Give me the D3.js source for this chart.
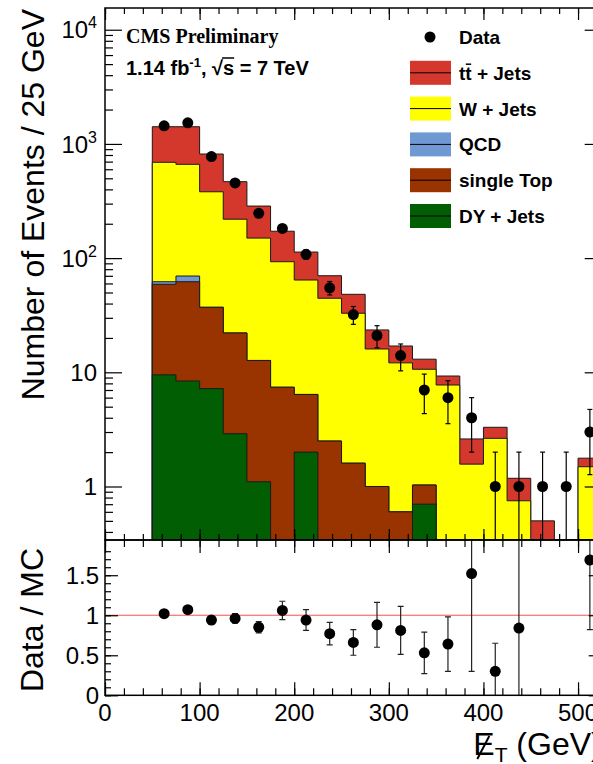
<!DOCTYPE html>
<html>
<head>
<meta charset="utf-8">
<script src="https://cdn.jsdelivr.net/npm/d3@7"></script>
<style>
  body { margin: 0; background: #fff; }
  text { font-family: "Liberation Sans", Arial, Helvetica, sans-serif; fill: #000; }
</style>
</head>
<body>
<div id="chart_container"></div>
<script>
// -- DATA -- // MET distribution, 25 GeV bins

// bin edges (GeV)
const binEdges = [50, 75, 100, 125, 150, 175, 200, 225, 250, 275, 300, 325, 350, 375, 400, 425, 450, 475, 500, 525];

// MC expectation per bin, one array per sample (not stacked)
const dyJets = [9.5, 8.4, 7.2, 2.9, 1.1, 0, 2.0, 0, 0, 0, 0, 0.7, 0, 0, 0, 0, 0, 0, 0];
const singleTop = [49.5, 53.7, 29.9, 19.2, 11.6, 7.4, 4.4, 2.5, 1.6, 1.0, 0.6, 0.33, 0, 0, 0, 0, 0, 0, 0];
const qcd = [3.1, 7.6, 0, 0, 0, 0, 0, 0, 0, 0, 0, 0, 0, 0, 0, 0, 0, 0, 0];
const wJets = [628, 593, 344, 197, 137, 85.6, 57.9, 42, 31.3, 15.0, 11.5, 9.6, 7.74, 1.57, 2.64, 0.75, 0.18, 0, 1.49];
const ttJets = [725, 752, 435, 248, 136, 79, 48.7, 25.6, 15.3, 7.5, 4.9, 2.4, 1.54, 1.04, 0.66, 0.43, 0.32, 0, 0.28];

// observed events and their errors
const dataCounts = [1440, 1530, 775, 455, 247, 182, 108, 55, 32, 21, 14, 7, 6, 4, 1, 1, 1, 1, 3];
const dataErr = [38, 39, 28, 21.3, 15.7, 13.5, 10.4, 7.4, 5.7, 4.6, 3.7, 2.65, 2.45, 2.0, 1, 1, 1, 1, 1.73];

// data / MC ratio (null = not drawn)
const ratioVals = [1.02, 1.07, 0.94, 0.96, 0.85, 1.06, 0.94, 0.77, 0.66, 0.88, 0.81, 0.53, 0.64, 1.52, 0.30, 0.84, null, null, 1.69];
const ratioErr = [0.04, 0.04, 0.05, 0.06, 0.07, 0.115, 0.13, 0.14, 0.16, 0.28, 0.30, 0.26, 0.34, 1.22, 0.35, 1.3, null, null, 0.87];

// tick labels
const xTickValues = [0, 100, 200, 300, 400, 500];
const xTickLabels = ["0", "100", "200", "300", "400", "500"];
const logTickValues = [1, 10, 100, 1000, 10000];
const logTickBase = ["1", "10", "10", "10", "10"];
const logTickExp = ["", "", "2", "3", "4"];
const ratioTickValues = [0, 0.5, 1, 1.5];
const ratioTickLabels = ["0", "0.5", "1", "1.5"];

// samples in stacking order (bottom first)
const samples = [
  { name: "DY + Jets", values: dyJets, color: "#015e03" },
  { name: "single Top", values: singleTop, color: "#993300" },
  { name: "QCD", values: qcd, color: "#7099d4" },
  { name: "W + Jets", values: wJets, color: "#ffff00" },
  { name: "tt + Jets", values: ttJets, color: "#d4372c" },
];

// -- LAYOUT -- //
const width = 593;
const height = 764;
const plotLeft = 105;
const plotRight = 601.7;
const topPanelTop = 8;
const panelSplit = 540;
const ratioBottom = 695.3;

const svg = d3
  .select("#chart_container")
  .append("svg")
  .attr("width", width)
  .attr("height", height);

// scales
const x = d3.scaleLinear().domain([0, 525]).range([plotLeft, plotRight]);
const y = d3.scaleLog().domain([0.34, 15500]).range([panelSplit, topPanelTop]).clamp(true);
const yRatio = d3.scaleLinear().domain([0, 1.94]).range([ratioBottom, panelSplit]);
const yMin = y.domain()[0];

// clip paths for both pads
const defs = svg.append("defs");
defs.append("clipPath").attr("id", "clipTop")
  .append("rect")
  .attr("x", plotLeft).attr("y", topPanelTop)
  .attr("width", plotRight - plotLeft).attr("height", panelSplit - topPanelTop);
defs.append("clipPath").attr("id", "clipRatio")
  .append("rect")
  .attr("x", plotLeft).attr("y", panelSplit)
  .attr("width", plotRight - plotLeft).attr("height", ratioBottom - panelSplit);

// -- STACKED HISTOGRAMS -- //
const rows = binEdges.slice(0, -1).map((lo, i) => {
  const row = { lo: lo, hi: binEdges[i + 1] };
  samples.forEach((s) => (row[s.name] = s.values[i]));
  return row;
});
const stacked = d3.stack().keys(samples.map((s) => s.name))(rows);

const histGroup = svg.append("g").attr("clip-path", "url(#clipTop)");

// like THStack: draw the cumulative histograms from the top one down
stacked
  .slice()
  .reverse()
  .forEach((series) => {
    const sample = samples[series.index];
    const pts = [];
    series.forEach((d) => {
      pts.push([d.data.lo, Math.max(d[1], yMin)]);
      pts.push([d.data.hi, Math.max(d[1], yMin)]);
    });
    const area = d3
      .area()
      .x((p) => x(p[0]))
      .y0(y(yMin))
      .y1((p) => y(p[1]));
    histGroup.append("path").attr("d", area(pts)).attr("fill", sample.color);

    const outline = [[pts[0][0], yMin]].concat(pts, [[pts[pts.length - 1][0], yMin]]);
    const line = d3
      .line()
      .x((p) => x(p[0]))
      .y((p) => y(p[1]));
    histGroup
      .append("path")
      .attr("d", line(outline))
      .attr("fill", "none")
      .attr("stroke", "#1a1a1a")
      .attr("stroke-width", 1);
  });

// -- DATA POINTS -- //
const centers = rows.map((r) => (r.lo + r.hi) / 2);
const dataGroup = svg.append("g").attr("clip-path", "url(#clipTop)");

dataCounts.forEach((n, i) => {
  const cx = x(centers[i]);
  const lo = n - dataErr[i];
  const hi = n + dataErr[i];
  dataGroup.append("line")
    .attr("x1", cx).attr("x2", cx)
    .attr("y1", y(Math.max(lo, yMin))).attr("y2", y(hi))
    .attr("stroke", "#000").attr("stroke-width", 1.2);
  dataGroup.append("line")
    .attr("x1", cx - 2.5).attr("x2", cx + 2.5)
    .attr("y1", y(hi)).attr("y2", y(hi))
    .attr("stroke", "#000").attr("stroke-width", 1.2);
  if (lo > yMin) {
    dataGroup.append("line")
      .attr("x1", cx - 2.5).attr("x2", cx + 2.5)
      .attr("y1", y(lo)).attr("y2", y(lo))
      .attr("stroke", "#000").attr("stroke-width", 1.2);
  }
  dataGroup.append("circle").attr("cx", cx).attr("cy", y(n)).attr("r", 5.5).attr("fill", "#000");
});

// -- RATIO PAD -- //
const ratioGroup = svg.append("g").attr("clip-path", "url(#clipRatio)");

ratioGroup.append("line")
  .attr("x1", plotLeft).attr("x2", plotRight)
  .attr("y1", yRatio(1)).attr("y2", yRatio(1))
  .attr("stroke", "#ff4f4f").attr("stroke-width", 1);

ratioVals.forEach((r, i) => {
  if (r === null) return;
  const cx = x(centers[i]);
  const lo = r - ratioErr[i];
  const hi = r + ratioErr[i];
  ratioGroup.append("line")
    .attr("x1", cx).attr("x2", cx)
    .attr("y1", yRatio(lo)).attr("y2", yRatio(hi))
    .attr("stroke", "#222").attr("stroke-width", 1.2);
  [lo, hi].forEach((v) => {
    ratioGroup.append("line")
      .attr("x1", cx - 3).attr("x2", cx + 3)
      .attr("y1", yRatio(v)).attr("y2", yRatio(v))
      .attr("stroke", "#222").attr("stroke-width", 1.2);
  });
  ratioGroup.append("circle").attr("cx", cx).attr("cy", yRatio(r)).attr("r", 5.5).attr("fill", "#000");
});

// -- AXES (ticks inside, on all four sides) -- //
function drawTicks(axisGen, translate, values, size) {
  const g = svg
    .append("g")
    .attr("transform", translate)
    .call(axisGen.tickValues(values).tickSize(size).tickFormat(""));
  g.select(".domain").remove();
  g.selectAll(".tick line").attr("stroke", "#000").attr("stroke-width", 1.2);
  return g;
}

const isPow10 = (v) => Math.abs(Math.log10(v) - Math.round(Math.log10(v))) < 1e-6;
const logMinor = y.ticks().filter((v) => !isPow10(v));
const xMinor = d3.range(0, 525, 20);
const ratioMinor = d3.range(0, 19).map((k) => k / 10);

// top pad
drawTicks(d3.axisLeft(y), `translate(${plotLeft},0)`, logTickValues, -17);
drawTicks(d3.axisLeft(y), `translate(${plotLeft},0)`, logMinor, -8);
drawTicks(d3.axisRight(y), `translate(${plotRight},0)`, logTickValues, -17);
drawTicks(d3.axisRight(y), `translate(${plotRight},0)`, logMinor, -8);
drawTicks(d3.axisTop(x), `translate(0,${topPanelTop})`, xTickValues, -12);
drawTicks(d3.axisTop(x), `translate(0,${topPanelTop})`, xMinor, -6);
drawTicks(d3.axisBottom(x), `translate(0,${panelSplit})`, xTickValues, -11);
drawTicks(d3.axisBottom(x), `translate(0,${panelSplit})`, xMinor, -6);

// ratio pad
drawTicks(d3.axisLeft(yRatio), `translate(${plotLeft},0)`, ratioTickValues, -13);
drawTicks(d3.axisLeft(yRatio), `translate(${plotLeft},0)`, ratioMinor, -6);
drawTicks(d3.axisRight(yRatio), `translate(${plotRight},0)`, ratioTickValues, -13);
drawTicks(d3.axisRight(yRatio), `translate(${plotRight},0)`, ratioMinor, -6);
drawTicks(d3.axisTop(x), `translate(0,${panelSplit})`, xTickValues, -13);
drawTicks(d3.axisTop(x), `translate(0,${panelSplit})`, xMinor, -7);
drawTicks(d3.axisBottom(x), `translate(0,${ratioBottom})`, xTickValues, -13);
drawTicks(d3.axisBottom(x), `translate(0,${ratioBottom})`, xMinor, -7);

// frames
[[topPanelTop, panelSplit], [panelSplit, ratioBottom]].forEach(([t, b]) => {
  svg.append("rect")
    .attr("x", plotLeft).attr("y", t)
    .attr("width", plotRight - plotLeft).attr("height", b - t)
    .attr("fill", "none").attr("stroke", "#000").attr("stroke-width", 1.5);
});

// -- TICK LABELS -- //
logTickValues.forEach((v, i) => {
  const t = svg.append("text")
    .attr("x", 97).attr("y", y(v) + 8.6)
    .attr("text-anchor", "end")
    .style("font-size", "24px");
  t.append("tspan").text(logTickBase[i]);
  if (logTickExp[i]) {
    t.append("tspan").attr("dy", -10).style("font-size", "16px").text(logTickExp[i]);
  }
});

ratioTickValues.forEach((v, i) => {
  svg.append("text")
    .attr("x", 99).attr("y", yRatio(v) + 8.6)
    .attr("text-anchor", "end")
    .style("font-size", "24px")
    .text(ratioTickLabels[i]);
});

xTickValues.forEach((v, i) => {
  svg.append("text")
    .attr("x", x(v)).attr("y", 721)
    .attr("text-anchor", "middle")
    .style("font-size", "24px")
    .text(xTickLabels[i]);
});

// -- AXIS TITLES -- //
svg.append("text")
  .attr("transform", "translate(44,9) rotate(-90)")
  .attr("text-anchor", "end")
  .style("font-size", "32px")
  .text("Number of Events / 25 GeV");

svg.append("text")
  .attr("transform", `translate(43,${panelSplit + 8}) rotate(-90)`)
  .attr("text-anchor", "end")
  .style("font-size", "32px")
  .text("Data / MC");

// missing ET title, slash drawn through the E
const xTitleBase = 755;
const xTitle = svg.append("text")
  .attr("x", plotRight).attr("y", xTitleBase)
  .attr("text-anchor", "end")
  .style("font-size", "32px");
xTitle.append("tspan").text("E");
xTitle.append("tspan").attr("dy", 7).style("font-size", "21px").text("T");
xTitle.append("tspan").attr("dy", -7).text(" (GeV)");
const eBox = xTitle.node().getExtentOfChar(0);
svg.append("line")
  .attr("x1", eBox.x + 4).attr("y1", xTitleBase + 4)
  .attr("x2", eBox.x + 16).attr("y2", xTitleBase - 19)
  .attr("stroke", "#000").attr("stroke-width", 2);

// -- HEADER -- //
svg.append("text")
  .attr("x", 126).attr("y", 43)
  .style("font-family", '"Liberation Serif", "Times New Roman", serif')
  .style("font-weight", "bold")
  .style("font-size", "20px")
  .text("CMS Preliminary");

const lumiBase = 75;
const lumi = svg.append("text")
  .attr("x", 126).attr("y", lumiBase)
  .style("font-weight", "bold")
  .style("font-size", "20px");
lumi.append("tspan").text("1.14 fb");
lumi.append("tspan").attr("dy", -8).style("font-size", "13px").text("-1");
lumi.append("tspan").attr("dy", 8).text(", \u221As = 7 TeV");
// overline of the square root over "s"
const rootBox = lumi.node().getExtentOfChar(11);
const sBox = lumi.node().getExtentOfChar(12);
svg.append("line")
  .attr("x1", rootBox.x + rootBox.width - 1).attr("x2", sBox.x + sBox.width)
  .attr("y1", lumiBase - 17).attr("y2", lumiBase - 17)
  .attr("stroke", "#000").attr("stroke-width", 1.5);

// -- LEGEND -- //
const legendX = 410;
const legendTextX = 459;
const legendY0 = 37;
const legendStep = 35.8;
const legend = svg.append("g");

legend.append("circle").attr("cx", 430).attr("cy", legendY0).attr("r", 5.5).attr("fill", "#000");
legend.append("text")
  .attr("x", legendTextX).attr("y", legendY0 + 7)
  .style("font-weight", "bold").style("font-size", "19px")
  .text("Data");

samples
  .slice()
  .reverse()
  .forEach((s, i) => {
    const cy = legendY0 + legendStep * (i + 1);
    legend.append("rect")
      .attr("x", legendX).attr("y", cy - 12)
      .attr("width", 41).attr("height", 24)
      .attr("fill", s.color);
    legend.append("line")
      .attr("x1", legendX).attr("x2", legendX + 41)
      .attr("y1", cy).attr("y2", cy)
      .attr("stroke", "#000").attr("stroke-width", 1);
    const label = legend.append("text")
      .attr("x", legendTextX).attr("y", cy + 7)
      .style("font-weight", "bold").style("font-size", "19px")
      .text(s.name);
    // anti-top bar over the second t
    if (s.name === "tt + Jets") {
      const tBox = label.node().getExtentOfChar(1);
      legend.append("line")
        .attr("x1", tBox.x + 0.5).attr("x2", tBox.x + tBox.width - 0.5)
        .attr("y1", cy + 7 - 15.6).attr("y2", cy + 7 - 15.6)
        .attr("stroke", "#000").attr("stroke-width", 1.5);
    }
  });
</script>
</body>
</html>
